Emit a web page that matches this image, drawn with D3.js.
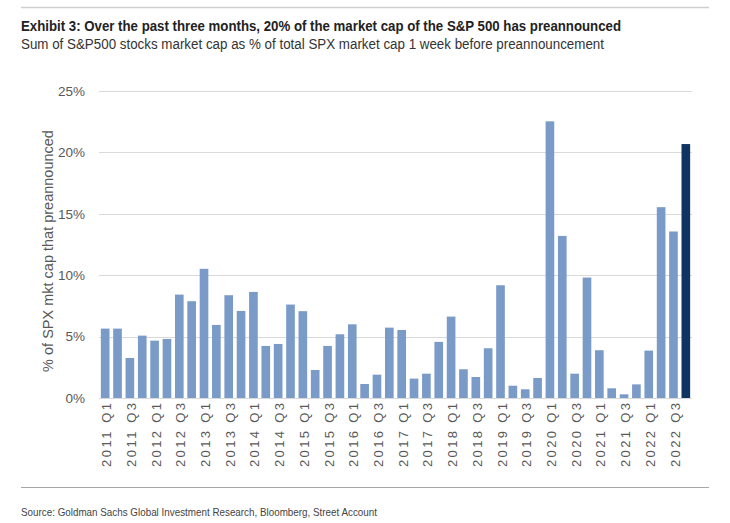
<!DOCTYPE html>
<html>
<head>
<meta charset="utf-8">
<script src="https://cdn.jsdelivr.net/npm/d3@7"></script>
<style>
  body { margin: 0; background: #fff; }
  svg { font-family: "Liberation Sans", Arial, sans-serif; }
</style>
</head>
<body>
<div id="chart"></div>
<script>
// Quarter labels and values (% of SPX market cap that preannounced)
const years = d3.range(2011, 2023);
const quarters = years.flatMap(y => [1, 2, 3, 4].map(q => y + " Q" + q));

const values = [
  5.65, 5.65, 3.26, 5.08,
  4.67, 4.81, 8.42, 7.88,
  10.52, 5.95, 8.37, 7.09,
  8.64, 4.24, 4.40, 7.61,
  7.07, 2.28, 4.24, 5.19,
  6.00, 1.14, 1.90, 5.73,
  5.54, 1.58, 1.98, 4.57,
  6.63, 2.34, 1.71, 4.05,
  9.18, 1.00, 0.71, 1.63,
  22.53, 13.20, 1.98, 9.81,
  3.89, 0.79, 0.30, 1.11,
  3.86, 15.54, 13.56, 20.68
];

const yTicks = [0, 5, 10, 15, 20, 25];
const highlight = "2022 Q4";

const title = "Exhibit 3: Over the past three months, 20% of the market cap of the S&P 500 has preannounced";
const subtitle = "Sum of S&P500 stocks market cap as % of total SPX market cap 1 week before preannouncement";
const yTitle = "% of SPX mkt cap that preannounced";
const source = "Source: Goldman Sachs Global Investment Research, Bloomberg, Street Account";

const data = quarters.map((q, i) => ({ q: q, v: values[i] }));

const width = 730, height = 523;
const plot = { left: 99, right: 692, top: 91, bottom: 398 };

const svg = d3.select("#chart").append("svg")
    .attr("width", width)
    .attr("height", height);

// Header / footer rules
svg.append("line")
    .attr("x1", 21).attr("x2", 709).attr("y1", 7.5).attr("y2", 7.5)
    .attr("stroke", "#cfcfcf").attr("stroke-width", 1.5);
svg.append("line")
    .attr("x1", 21).attr("x2", 709).attr("y1", 487.5).attr("y2", 487.5)
    .attr("stroke", "#a6a6a6").attr("stroke-width", 1);

svg.append("text")
    .attr("x", 21).attr("y", 31)
    .attr("font-size", 15).attr("font-weight", "bold").attr("fill", "#222")
    .attr("textLength", 600).attr("lengthAdjust", "spacingAndGlyphs")
    .text(title);

svg.append("text")
    .attr("x", 21).attr("y", 49)
    .attr("font-size", 14).attr("fill", "#333")
    .attr("textLength", 583).attr("lengthAdjust", "spacingAndGlyphs")
    .text(subtitle);

svg.append("text")
    .attr("x", 21).attr("y", 516)
    .attr("font-size", 11).attr("fill", "#444")
    .attr("textLength", 356).attr("lengthAdjust", "spacingAndGlyphs")
    .text(source);

// Scales
const x = d3.scaleBand()
    .domain(quarters)
    .range([plot.left, plot.right])
    .paddingInner(0.3)
    .paddingOuter(0.15);

const y = d3.scaleLinear()
    .domain([0, 25])
    .range([plot.bottom, plot.top]);

// Gridlines
svg.append("g")
  .selectAll("line")
  .data(yTicks)
  .join("line")
    .attr("x1", plot.left).attr("x2", plot.right)
    .attr("y1", d => Math.round(y(d)) + 0.5)
    .attr("y2", d => Math.round(y(d)) + 0.5)
    .attr("stroke", "#d9d9d9").attr("stroke-width", 1);

// Y axis labels
const yAxis = d3.axisLeft(y)
    .tickValues(yTicks)
    .tickFormat(d => d + "%")
    .tickSize(0)
    .tickPadding(0);

const yAxisGroup = svg.append("g")
    .attr("transform", "translate(85,0)")
    .call(yAxis);
yAxisGroup.select(".domain").remove();
yAxisGroup.selectAll("text")
    .attr("font-size", 13.5)
    .attr("font-family", "Liberation Sans, Arial, sans-serif")
    .attr("fill", "#595959");

svg.append("text")
    .attr("transform", "translate(53,251) rotate(-90)")
    .attr("text-anchor", "middle")
    .attr("font-size", 14.5).attr("fill", "#595959")
    .text(yTitle);

// Bars
svg.append("g")
  .selectAll("rect")
  .data(data)
  .join("rect")
    .attr("x", d => x(d.q))
    .attr("y", d => y(d.v))
    .attr("width", x.bandwidth())
    .attr("height", d => y(0) - y(d.v))
    .attr("fill", d => d.q === highlight ? "#0f3461" : "#7a9bc7");

// X axis labels (every other quarter)
const xAxis = d3.axisBottom(x)
    .tickValues(quarters.filter((q, i) => i % 2 === 0))
    .tickSize(0)
    .tickPadding(0);

const xAxisGroup = svg.append("g")
    .attr("transform", "translate(0," + plot.bottom + ")")
    .call(xAxis);
xAxisGroup.select(".domain").remove();
xAxisGroup.selectAll("text")
    .attr("font-size", 13)
    .attr("font-family", "Liberation Sans, Arial, sans-serif")
    .attr("fill", "#595959")
    .attr("text-anchor", "end")
    .attr("dy", "0.35em")
    .attr("y", 0)
    .attr("transform", "translate(1.5,5) rotate(-90)")
    .attr("textLength", 64)
    .attr("lengthAdjust", "spacing");
</script>
</body>
</html>
